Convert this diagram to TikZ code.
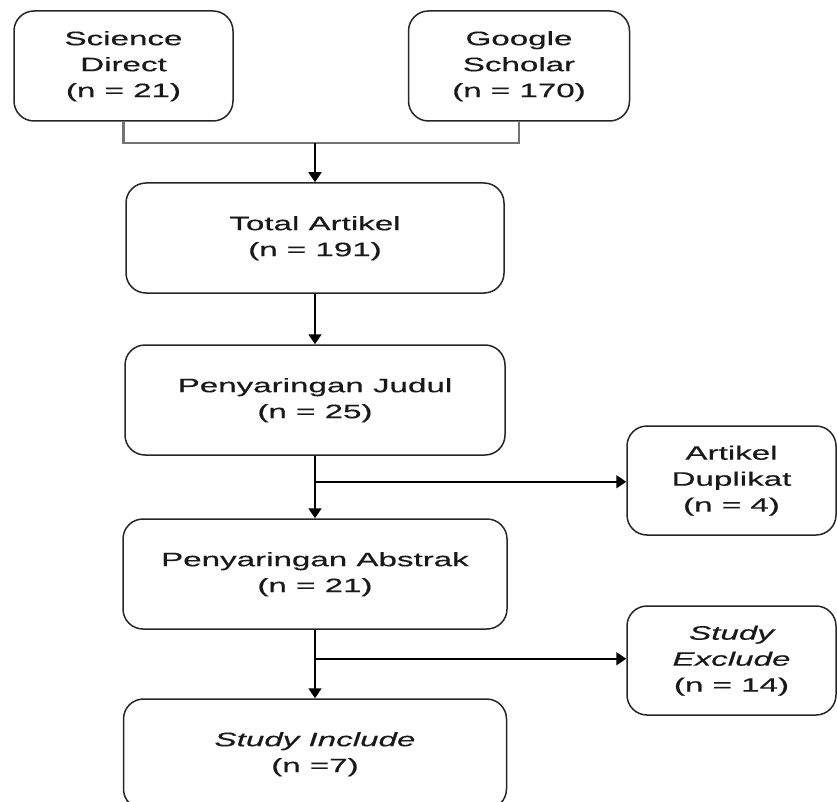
\documentclass[tikz,border=0pt]{standalone}
\usepackage{graphicx}
\usepackage{fontspec}
\setmainfont{Liberation Sans}[FakeBold=0.3]
\usetikzlibrary{arrows.meta}
\newcommand{\stxt}[1]{\scalebox{1.70}[1]{\begin{tabular}{@{}c@{}}#1\end{tabular}}}
\tikzset{
  box/.style={draw=black!85, line width=1.5pt, rounded corners=20pt, inner sep=0pt,
    font=\fontsize{19.5}{26}\selectfont, text=black!90, rectangle},
  arr/.style={draw=black, line width=1.6pt, -{Triangle[length=10pt,width=13pt]}},
  feed/.style={draw=black!55, line width=2.4pt}
}
\begin{document}
\begin{tikzpicture}[x=1pt,y=1pt]
\useasboundingbox (0,0) rectangle (837,-802);
\node[box, minimum width=219pt, minimum height=110pt] (sd) at (123.5,-66) {\stxt{Science\\Direct\\(n = 21)}};
\node[box, minimum width=221pt, minimum height=110pt] (gs) at (519,-66) {\stxt{Google\\Scholar\\(n = 170)}};
\node[box, minimum width=378pt, minimum height=110pt] (ta) at (315,-238) {\stxt{Total Artikel\\(n = 191)}};
\node[box, minimum width=380pt, minimum height=110pt] (pj) at (315,-400) {\stxt{Penyaringan Judul\\(n = 25)}};
\node[box, minimum width=384pt, minimum height=110pt] (pa) at (315,-574) {\stxt{Penyaringan Abstrak\\(n = 21)}};
\node[box, minimum width=383pt, minimum height=110pt] (si) at (315,-754) {\stxt{\itshape Study Include\\(n =7)}};
\node[box, minimum width=209pt, minimum height=109pt] (du) at (731.5,-480.5) {\stxt{Artikel\\Duplikat\\(n = 4)}};
\node[box, minimum width=209pt, minimum height=109pt] (ex) at (731.5,-660.5) {\stxt{\itshape Study\\\itshape Exclude\\(n = 14)}};
\coordinate (j) at (315,-143);
\draw[feed] (sd.south) |- (j) -| (gs.south);
\draw[arr] (j) -- (ta.north);
\draw[arr] (ta.south) -- (pj.north);
\draw[arr] (pj.south) -- (pa.north);
\path (pj.south) ++(0,-26) coordinate (b1);
\draw[arr] (b1) -- (b1 -| du.west);
\draw[arr] (pa.south) -- (si.north);
\path (pa.south) ++(0,-29) coordinate (b2);
\draw[arr] (b2) -- (b2 -| ex.west);
\end{tikzpicture}
\end{document}
